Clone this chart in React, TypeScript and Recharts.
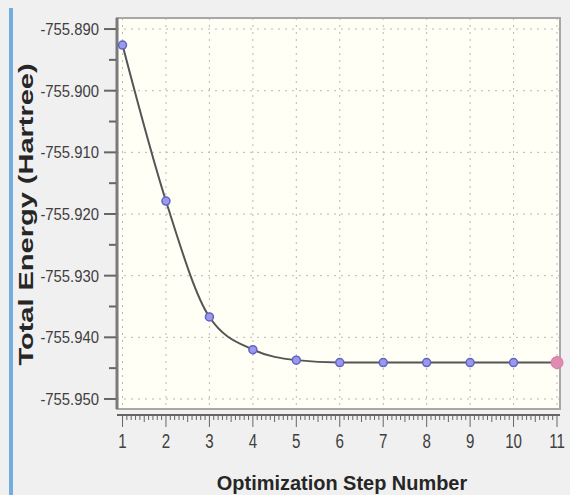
import React from 'react';
import {
  LineChart,
  Line,
  XAxis,
  YAxis,
  CartesianGrid,
  ReferenceArea,
  ReferenceLine,
} from 'recharts';

// optimization steps and total energy (Hartree)
const steps = [1, 2, 3, 4, 5, 6, 7, 8, 9, 10, 11];
const energy = [
  -755.8926, -755.9179, -755.9367, -755.942, -755.9437, -755.9441,
  -755.9441, -755.9441, -755.9441, -755.9441, -755.9441,
];

const yMajorTicks = [-755.95, -755.94, -755.93, -755.92, -755.91, -755.9, -755.89];
const yMinorTicks = [-755.945, -755.935, -755.925, -755.915, -755.905, -755.895];
const xMajorTicks = steps;

const data = steps.map((s, i) => ({ step: s, energy: energy[i] }));

// ruler ticks every 0.1 along the x axis
const xRulerTicks: number[] = [];
for (let i = 0; i <= 100; i++) xRulerTicks.push(Math.round((1 + i * 0.1) * 10) / 10);

const X_MIN = 0.873;
const X_MAX = 11.069;
const Y_TOP = -755.88821;
const Y_BOTTOM = -755.9526; // ruler line
const FRAME_BOTTOM = -755.95162;

const FONT = "'Liberation Sans', Arial, sans-serif";
const TEXT = '#404040';
const AXIS = '#666';

const isMajorY = (v: number) => Math.abs(v * 100 - Math.round(v * 100)) < 1e-6;

const YTick = (props: any) => {
  const { x, y, payload } = props;
  const v = payload.value as number;
  const major = isMajorY(v);
  return (
    <g>
      <line x1={x - (major ? 13 : 8)} x2={x - 1} y1={y} y2={y} stroke={AXIS} strokeWidth={2} />
      {major && (
        <text
          transform={`translate(${x - 18},${y + 6}) scale(0.9,1)`}
          textAnchor="end"
          fontSize={16.5}
          fontFamily={FONT}
          fill={TEXT}
        >
          {v.toFixed(3)}
        </text>
      )}
    </g>
  );
};

const XTick = (props: any) => {
  const { x, y, payload } = props;
  const v = payload.value as number;
  const major = Math.abs(v - Math.round(v)) < 1e-6;
  const half = Math.abs(v - Math.floor(v) - 0.5) < 1e-6;
  const len = major ? 12 : half ? 7 : 5;
  return (
    <g>
      <line x1={x} x2={x} y1={y} y2={y + len} stroke={AXIS} strokeWidth={1} />
      {major && (
        <text
          transform={`translate(${x},${y + 33}) scale(0.72,1)`}
          textAnchor="middle"
          fontSize={21}
          fontFamily={FONT}
          fill={TEXT}
        >
          {v}
        </text>
      )}
    </g>
  );
};

const renderDot = (props: any) => {
  const { cx, cy, index } = props;
  if (index === steps.length - 1) {
    return <circle key={`dot-${index}`} cx={cx} cy={cy} r={6} fill="#e08cb0" stroke="#d27aa0" strokeWidth={1} />;
  }
  return <circle key={`dot-${index}`} cx={cx} cy={cy} r={4} fill="#9a9ae6" stroke="#6262cc" strokeWidth={1.5} />;
};

const App: React.FC = () => {
  return (
    <div
      style={{
        position: 'absolute',
        left: 0,
        top: 0,
        width: 570,
        height: 495,
        background: '#f0f0f0',
      }}
    >
      {/* blue window edge on the left */}
      <div style={{ position: 'absolute', left: 9, top: 8, width: 4, height: 487, background: '#74aee0' }} />
      <LineChart
        width={570}
        height={495}
        data={data}
        margin={{ top: 18, right: 10, bottom: 0, left: 17 }}
      >
        <CartesianGrid
          stroke="#b8b8b8"
          strokeDasharray="2 5"
          fill="#fffff5"
          horizontalValues={yMajorTicks}
          verticalValues={xMajorTicks}
        />
        <XAxis
          dataKey="step"
          type="number"
          domain={[X_MIN, X_MAX]}
          ticks={xRulerTicks}
          interval={0}
          tickSize={0}
          tickMargin={0}
          tickLine={false}
          axisLine={{ stroke: AXIS, strokeWidth: 2 }}
          tick={<XTick />}
          height={80}
          label={(p: any) => (
            <text
              transform={`translate(342,490) scale(0.95,1)`}
              textAnchor="middle"
              fontSize={21}
              fontWeight="bold"
              fontFamily={FONT}
              fill="#262626"
            >
              Optimization Step Number
            </text>
          )}
        />
        <YAxis
          type="number"
          domain={[Y_BOTTOM, Y_TOP]}
          ticks={[...yMajorTicks, ...yMinorTicks]}
          interval={0}
          tickSize={0}
          tickMargin={0}
          tickLine={false}
          axisLine={false}
          tick={<YTick />}
          width={100}
          label={(p: any) => {
            const vb = p.viewBox || { y: 18, height: 397 };
            const cy = vb.y + vb.height / 2;
            return (
              <text
                transform={`translate(26,${cy - 2}) scale(0.72,1) rotate(-90)`}
                textAnchor="middle"
                dominantBaseline="central"
                fontSize={29}
                fontWeight="bold"
                fontFamily={FONT}
                fill="#262626"
              >
                Total Energy (Hartree)
              </text>
            );
          }}
        />
        {/* gap between plot frame and x ruler */}
        <ReferenceArea
          x1={X_MIN}
          x2={X_MAX}
          y1={Y_BOTTOM}
          y2={FRAME_BOTTOM}
          fill="#f0f0f0"
          fillOpacity={1}
          stroke="none"
        />
        {/* plot frame */}
        <ReferenceArea
          x1={X_MIN}
          x2={X_MAX}
          y1={FRAME_BOTTOM}
          y2={Y_TOP}
          fill="none"
          fillOpacity={0}
          stroke="#a8a8a8"
          strokeWidth={2}
        />
        <ReferenceLine
          segment={[
            { x: X_MIN, y: FRAME_BOTTOM },
            { x: X_MIN, y: Y_TOP },
          ]}
          stroke="#7a7a7a"
          strokeWidth={3}
        />
        <Line
          type="monotone"
          dataKey="energy"
          stroke="#555"
          strokeWidth={2}
          dot={renderDot}
          activeDot={false}
          isAnimationActive={false}
        />
      </LineChart>
    </div>
  );
};

export default App;
